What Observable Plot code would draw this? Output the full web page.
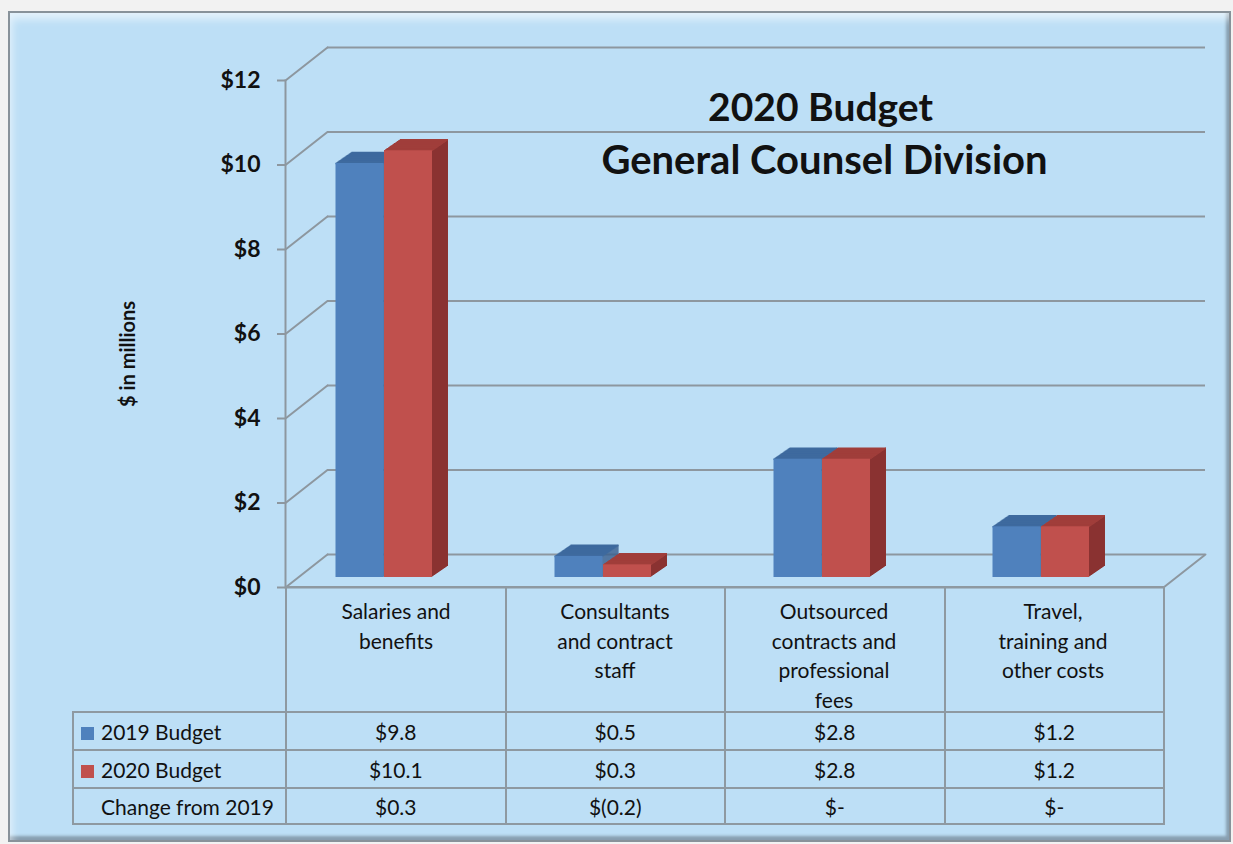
<!DOCTYPE html>
<html>
<head>
<meta charset="utf-8">
<script src="https://cdn.jsdelivr.net/npm/d3@7"></script>
<script src="https://cdn.jsdelivr.net/npm/@observablehq/plot@0.6"></script>
<style>
  html, body { margin: 0; padding: 0; }
  body { width: 1233px; height: 844px; overflow: hidden; position: relative; background: #f2f2f2; font-family: Lato, "Open Sans", sans-serif; }
  #panel { position: absolute; left: 8px; top: 11px; width: 1219px; height: 827px; background: #bddff6; border: 2px solid #88929a;
    box-shadow: inset 5px 9px 9px -3px rgba(255,255,255,0.6), inset -3px -4px 3px rgba(70,80,90,0.45); }
  #chart { position: absolute; left: 0; top: 0; }
  #tbl { position: absolute; left: 72px; top: 586px; border-collapse: collapse; table-layout: fixed; font-size: 21px; color: #111; }
  #tbl td { border: 2px solid #8e99a1; padding: 0; text-align: center; }
  #tbl td.lab { text-align: left; padding-left: 7px; white-space: nowrap; }
  .sw { display: inline-block; width: 13px; height: 13px; margin-right: 7px; vertical-align: 0px; }
</style>
</head>
<body>
<div id="panel"></div>
<div id="chart"></div>
<table id="tbl"></table>
<script>
// ---- data ----
const categories = [
  "Salaries and benefits",
  "Consultants and contract staff",
  "Outsourced contracts and professional fees",
  "Travel, training and other costs"
];
const categoryLabels = [
  "Salaries and\nbenefits",
  "Consultants\nand contract\nstaff",
  "Outsourced\ncontracts and\nprofessional\nfees",
  "Travel,\ntraining and\nother costs"
];
const seriesNames = ["2019 Budget", "2020 Budget"];
const budget2019 = [9.8, 0.5, 2.8, 1.2];
const budget2020 = [10.1, 0.3, 2.8, 1.2];
const changeLabel = "Change from 2019";
const yTicks = [0, 2, 4, 6, 8, 10, 12];
const titleLines = ["2020 Budget", "General Counsel Division"];
const yLabel = "$ in millions";

// ---- styles ----
const gridColor = "#8d979f";
const seriesStyle = [
  {front: "#4f81bd", top: "#3e6a9e", side: "#395f8d", il: 49.5, ir: 121.5},
  {front: "#c0504d", top: "#a03e3b", side: "#8b3331", il: 98, ir: 73}
];
const bandW = (1163 - 285) / 4;
const depthX = 16, depthY = 11, lift = 10, steps = 16;
const lineShape = {draw(context, l) { context.moveTo(0, 0); context.lineTo(0, -l); }};

const seriesRows = [budget2019, budget2020].map(vals =>
  categories.map((c, i) => ({category: c, value: vals[i]})));
const labelOf = new Map(categories.map((c, i) => [c, categoryLabels[i]]));

const marks = [];
// back wall gridlines
marks.push(Plot.ruleY(yTicks, {y: d => d, dx: 42, dy: -33, stroke: gridColor, strokeWidth: 2}));
// side wall diagonals
marks.push(Plot.vector(yTicks, {y: d => d, frameAnchor: "left", length: 53.4, rotate: 51.8, anchor: "start", shape: lineShape, stroke: gridColor, strokeWidth: 2}));
// floor right diagonal
marks.push(Plot.vector([0], {y: d => d, frameAnchor: "right", length: 53.4, rotate: 51.8, anchor: "start", shape: lineShape, stroke: gridColor, strokeWidth: 2}));
// floor front edge
marks.push(Plot.ruleY([0], {stroke: gridColor, strokeWidth: 2}));
// front vertical axis line
marks.push(Plot.frame({anchor: "left", stroke: gridColor, strokeWidth: 2}));

// 3D bars
seriesRows.forEach((rows, s) => {
  const st = seriesStyle[s];
  for (let k = 0; k <= steps; k++) {
    const dx = k * depthX / steps, dy = -lift - k * depthY / steps;
    marks.push(Plot.barY(rows, {x: "category", y: "value", fill: st.side,
      insetLeft: bandW - st.ir - 1.6, insetRight: st.ir, dx, dy}));
  }
  for (let k = 0; k <= steps; k++) {
    const dx = k * depthX / steps, dy = -lift - k * depthY / steps;
    marks.push(Plot.tickY(rows, {x: "category", y: "value", stroke: st.top, strokeWidth: 1.6,
      insetLeft: st.il, insetRight: st.ir, dx, dy}));
  }
  marks.push(Plot.barY(rows, {x: "category", y: "value", fill: st.front,
    insetLeft: st.il, insetRight: st.ir, dy: -lift}));
});

// axes
marks.push(Plot.axisY(yTicks, {tickSize: 8, tickPadding: 17, tickFormat: d => "$" + d,
  fontSize: 23, fontWeight: "bold", stroke: gridColor, strokeWidth: 2, fill: "#111"}));
marks.push(Plot.axisX({tickSize: 0, tickPadding: 11, tickFormat: d => labelOf.get(d),
  fontSize: 21, lineHeight: 1.4, fill: "#111"}));

// y label and title
marks.push(Plot.text([yLabel], {text: d => d, frameAnchor: "left", textAnchor: "middle", dx: -157, dy: 20, rotate: -90,
  fontSize: 20, fontWeight: "bold", fill: "#111"}));
marks.push(Plot.text([titleLines[0]], {text: d => d, frameAnchor: "top-left", textAnchor: "middle", lineAnchor: "middle",
  dx: 535, dy: 28, fontSize: 39, fontWeight: "bold", fill: "#111"}));
marks.push(Plot.text([titleLines[1]], {text: d => d, frameAnchor: "top-left", textAnchor: "middle", lineAnchor: "middle",
  dx: 539, dy: 81, fontSize: 40, fontWeight: "bold", fill: "#111"}));

const chart = Plot.plot({
  width: 1233,
  height: 720,
  marginLeft: 285,
  marginRight: 70,
  marginTop: 80,
  marginBottom: 133,
  style: {background: "transparent", overflow: "visible", fontFamily: "Lato, 'Open Sans', sans-serif"},
  x: {domain: categories, padding: 0, label: null},
  y: {domain: [0, 12], label: null},
  marks
});
document.getElementById("chart").appendChild(chart);

// data table
const fmt = v => v === 0 ? "$-" : v < 0 ? "$(" + Math.abs(v).toFixed(1) + ")" : "$" + v.toFixed(1);
const change = budget2020.map((v, i) => Math.round((v - budget2019[i]) * 10) / 10);
const tbl = document.getElementById("tbl");
const cg = document.createElement("colgroup");
[213, bandW, bandW, bandW, bandW].forEach(w => { const c = document.createElement("col"); c.style.width = w + "px"; cg.appendChild(c); });
tbl.appendChild(cg);
const hr = document.createElement("tr");
hr.style.height = "125px";
for (let i = 0; i < 5; i++) { const td = document.createElement("td"); if (i === 0) td.style.border = "none"; hr.appendChild(td); }
tbl.appendChild(hr);
const bodyRows = [
  {label: seriesNames[0], color: seriesStyle[0].front, vals: budget2019.map(fmt)},
  {label: seriesNames[1], color: seriesStyle[1].front, vals: budget2020.map(fmt)},
  {label: changeLabel, color: null, vals: change.map(fmt)}
];
bodyRows.forEach((r, ri) => {
  const tr = document.createElement("tr");
  tr.style.height = (ri === 2 ? 36 : 38) + "px";
  const lab = document.createElement("td");
  lab.className = "lab";
  const sw = document.createElement("span");
  sw.className = "sw";
  sw.style.background = r.color || "transparent";
  lab.appendChild(sw);
  lab.appendChild(document.createTextNode(r.label));
  tr.appendChild(lab);
  r.vals.forEach(v => { const td = document.createElement("td"); td.textContent = v; tr.appendChild(td); });
  tbl.appendChild(tr);
});
</script>
</body>
</html>
